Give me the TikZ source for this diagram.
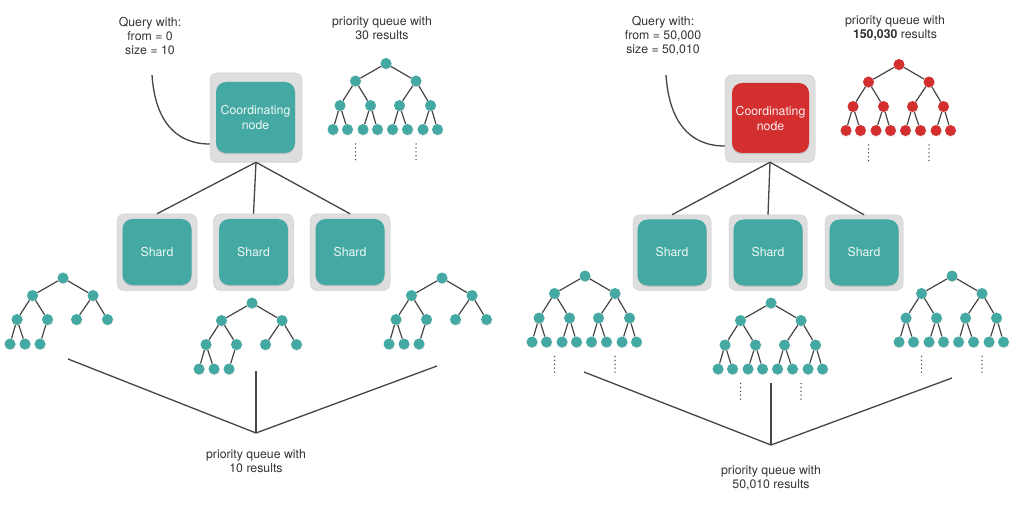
\documentclass[tikz,border=0pt]{standalone}
\usepackage{fontspec}
\setmainfont{TeX Gyre Heros}
\usetikzlibrary{shadows}
\definecolor{tealc}{HTML}{43A9A2}
\definecolor{redc}{HTML}{D32F2F}
\definecolor{boxg}{HTML}{DEDEDE}
\definecolor{boxe}{HTML}{D0D0D0}
\definecolor{linec}{HTML}{454545}
\definecolor{txt}{HTML}{333333}
\tikzset{
  dot/.style={circle, fill=#1, inner sep=0pt, minimum size=11pt,
    drop shadow={shadow xshift=0.4pt, shadow yshift=-0.8pt, opacity=0.22}},
  tedge/.style={draw=linec, line width=1.2pt},
  conn/.style={draw=linec, line width=1.3pt},
  outerbox/.style={rectangle, rounded corners=7pt, fill=boxg, draw=boxe, line width=0.5pt,
    inner sep=0pt, drop shadow={shadow xshift=0pt, shadow yshift=-1.2pt, opacity=0.18}},
  innerbox/.style={rectangle, rounded corners=10pt, fill=#1, text=white!92!#1, inner sep=0pt,
    font=\fontsize{12.3}{15}\selectfont, align=center,
    drop shadow={shadow xshift=0pt, shadow yshift=-1.3pt, opacity=0.28}},
  lbl/.style={text=txt, font=\fontsize{12.3}{14}\selectfont, align=center, inner sep=0pt},
  vdots/.style={draw=linec, line width=1.5pt, line cap=round, dash pattern=on 0pt off 3.9pt},
}
\newcommand\ptree[4]{%
  \begin{scope}[shift={(#2,#3)}]
    \node[dot=#4] (#1-1) at (0,0) {};
    \node[dot=#4] (#1-2) at (-30.5,17.5) {};
    \node[dot=#4] (#1-3) at (30,17.5) {};
    \node[dot=#4] (#1-4) at (-46,41.5) {};
    \node[dot=#4] (#1-5) at (-15.5,41.5) {};
    \node[dot=#4] (#1-6) at (13.5,41.5) {};
    \node[dot=#4] (#1-7) at (44.5,41.5) {};
    \node[dot=#4] (#1-8) at (-53,66) {};
    \node[dot=#4] (#1-9) at (-38,66) {};
    \node[dot=#4] (#1-10) at (-23,66) {};
    \draw[tedge] (#1-1)--(#1-2) (#1-1)--(#1-3) (#1-2)--(#1-4) (#1-2)--(#1-5)
      (#1-3)--(#1-6) (#1-3)--(#1-7) (#1-4)--(#1-8) (#1-4)--(#1-9) (#1-5)--(#1-10);
  \end{scope}}
\newcommand\ftree[4]{%
  \begin{scope}[shift={(#2,#3)}]
    \node[dot=#4] (#1-1) at (0,0) {};
    \node[dot=#4] (#1-2) at (-30.5,17.5) {};
    \node[dot=#4] (#1-3) at (30,17.5) {};
    \node[dot=#4] (#1-4) at (-46,42) {};
    \node[dot=#4] (#1-5) at (-15.5,42) {};
    \node[dot=#4] (#1-6) at (13.5,42) {};
    \node[dot=#4] (#1-7) at (44.5,42) {};
    \node[dot=#4] (#1-8) at (-53,66) {};
    \node[dot=#4] (#1-9) at (-38.5,66) {};
    \node[dot=#4] (#1-10) at (-23,66) {};
    \node[dot=#4] (#1-11) at (-8.5,66) {};
    \node[dot=#4] (#1-12) at (6.5,66) {};
    \node[dot=#4] (#1-13) at (21.5,66) {};
    \node[dot=#4] (#1-14) at (37,66) {};
    \node[dot=#4] (#1-15) at (51.5,66) {};
    \draw[tedge] (#1-1)--(#1-2) (#1-1)--(#1-3) (#1-2)--(#1-4) (#1-2)--(#1-5)
      (#1-3)--(#1-6) (#1-3)--(#1-7) (#1-4)--(#1-8) (#1-4)--(#1-9) (#1-5)--(#1-10)
      (#1-5)--(#1-11) (#1-6)--(#1-12) (#1-6)--(#1-13) (#1-7)--(#1-14) (#1-7)--(#1-15);
    \draw[vdots] (-30.5,80.5) -- (-30.5,96.5);
    \draw[vdots] (30,80.5) -- (30,96.5);
  \end{scope}}
\begin{document}
\begin{tikzpicture}[x=1pt,y=-1pt]
\useasboundingbox[fill=white] (0,0) rectangle (1023,513);

% ---------------- LEFT ----------------
\node[lbl] (q1t) at (150,36) {Query with:\\from = 0\\size = 10};
\node[lbl] (pq1t) at (382,28) {priority queue with\\30 results};
\node[outerbox, minimum width=92pt, minimum height=89pt] (cn1o) at (256,117.5) {};
\node[innerbox=tealc, minimum width=79pt, minimum height=71pt] (cn1) at (255.5,117.5) {Coordinating\\node};
\coordinate (q1) at (152,75);
\draw[conn] (q1) .. controls (155,120) and (175,144) .. ([yshift=-26.5pt]cn1o.west);
\ftree{tq1}{386}{63.5}{tealc}

\foreach \n/\x in {s11/157, s12/253.5, s13/350}{
  \node[outerbox, minimum width=80pt, minimum height=76pt] (\n o) at (\x,252) {};
  \node[innerbox=tealc, minimum width=69pt, minimum height=66pt] (\n) at (\x,252) {Shard};
}
\draw[conn] (cn1o.south) -- (s11o.north);
\draw[conn] (cn1o.south) -- (s12o.north);
\draw[conn] (cn1o.south) -- (s13o.north);

\ptree{ta}{63}{278}{tealc}
\ptree{tb}{252}{303}{tealc}
\ptree{tc}{442}{278}{tealc}

\coordinate (j1) at (256,433);
\coordinate (e11) at (68,359);
\coordinate (e12) at (256,371);
\coordinate (e13) at (437,366);
\draw[conn] (e11) -- (j1);
\draw[conn] (e12) -- (j1);
\draw[conn] (e13) -- (j1);
\node[lbl] (b1t) at (256,461) {priority queue with\\10 results};

% ---------------- RIGHT ----------------
\node[lbl] (q2t) at (663,36) {Query with:\\from = 50,000\\size = 50,010};
\node[lbl] (pq2t) at (895,28) {priority queue with\\\textbf{150,030} results};
\node[outerbox, minimum width=90pt, minimum height=87pt] (cn2o) at (770,118.5) {};
\node[innerbox=redc, minimum width=77pt, minimum height=70pt] (cn2) at (770.5,118) {Coordinating\\node};
\coordinate (q2) at (666,75);
\draw[conn] (q2) .. controls (669,121) and (689,146) .. ([yshift=-27.5pt]cn2o.west);
\ftree{tq2}{899}{64.5}{redc}

\foreach \n/\x in {s21/672, s22/768, s23/864}{
  \node[outerbox, minimum width=78pt, minimum height=75pt] (\n o) at (\x,252.5) {};
  \node[innerbox=tealc, minimum width=69pt, minimum height=66pt] (\n) at (\x,252.5) {Shard};
}
\draw[conn] (cn2o.south) -- (s21o.north);
\draw[conn] (cn2o.south) -- (s22o.north);
\draw[conn] (cn2o.south) -- (s23o.north);

\ftree{td}{585}{276}{tealc}
\ftree{te}{771}{303}{tealc}
\ftree{tf}{952}{276}{tealc}

\coordinate (j2) at (771,445);
\coordinate (e21) at (584,372);
\coordinate (e22) at (771,383);
\coordinate (e23) at (952,378);
\draw[conn] (e21) -- (j2);
\draw[conn] (e22) -- (j2);
\draw[conn] (e23) -- (j2);
\node[lbl] (b2t) at (771,477.5) {priority queue with\\50,010 results};
\end{tikzpicture}
\end{document}
